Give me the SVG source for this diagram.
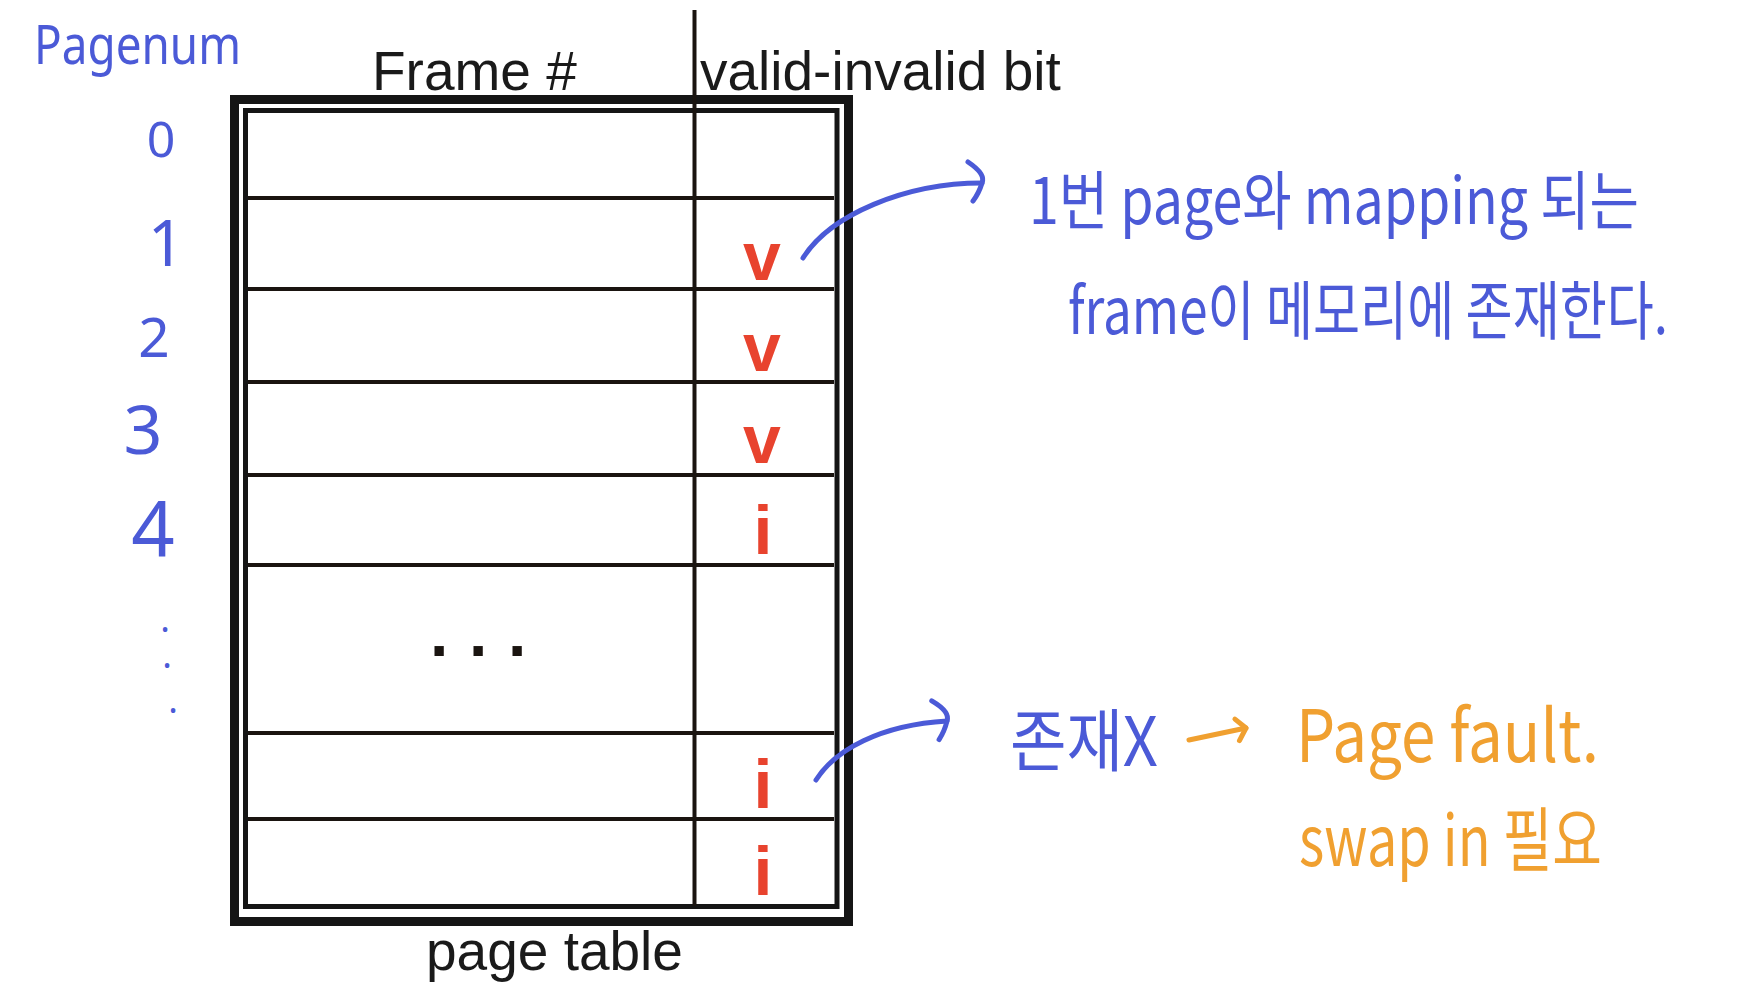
<svg xmlns="http://www.w3.org/2000/svg" width="1759" height="1000" viewBox="0 0 1759 1000">
<style>
.hdr{font-family:"Liberation Sans",Arial,sans-serif;font-size:55px;fill:#1a1a1a}
.bit{font-family:"Liberation Sans",Arial,sans-serif;font-weight:bold;font-size:68px;fill:#e8432e;text-anchor:middle}
.dots{font-family:"Liberation Sans",Arial,sans-serif;font-weight:bold;font-size:66px;fill:#1a1410}
.hand{font-family:"Noto Sans CJK KR","Noto Sans",sans-serif;fill:#4b5ad7}
.handO{font-family:"Noto Sans CJK KR","Noto Sans",sans-serif;fill:#f0a030}
.num{font-family:"Noto Sans","Noto Sans CJK KR",sans-serif;fill:#4b5ad7;text-anchor:middle}
.grid{stroke:#1a1410;stroke-width:4;fill:none}
.conn{fill:none;stroke:#4b5ad7;stroke-width:5;stroke-linecap:round;stroke-linejoin:round}
.connO{fill:none;stroke:#f0a030;stroke-width:5;stroke-linecap:round;stroke-linejoin:round}
</style>
<defs>
<marker id="hook" markerUnits="userSpaceOnUse" markerWidth="40" markerHeight="50" refX="0" refY="0" viewBox="-25 -25 40 50" orient="auto" overflow="visible">
<path d="M-14,-21 Q4,-9 0,0 Q-3,10 -9,18" fill="none" stroke="#4b5ad7" stroke-width="5" stroke-linecap="round"/>
</marker>
<marker id="chev" markerUnits="userSpaceOnUse" markerWidth="30" markerHeight="30" refX="0" refY="0" viewBox="-15 -15 30 30" orient="auto" overflow="visible">
<path d="M-9,-11 L0,0 L-9,11" fill="none" stroke="#f0a030" stroke-width="5" stroke-linecap="round" stroke-linejoin="round"/>
</marker>
</defs>
<rect width="1759" height="1000" fill="#ffffff"/>

<g id="page-table">
<rect x="234.5" y="99.5" width="614" height="822" fill="#ffffff" stroke="#151515" stroke-width="9"/>
<rect x="245.5" y="110.5" width="591.5" height="796" fill="none" stroke="#151515" stroke-width="5"/>
<g class="grid">
<line x1="248" y1="198" x2="834" y2="198"/>
<line x1="248" y1="289" x2="834" y2="289"/>
<line x1="248" y1="382" x2="834" y2="382"/>
<line x1="248" y1="475" x2="834" y2="475"/>
<line x1="248" y1="565" x2="834" y2="565"/>
<line x1="248" y1="733" x2="834" y2="733"/>
<line x1="248" y1="819" x2="834" y2="819"/>
<line x1="694.5" y1="10" x2="694.5" y2="906"/>
</g>
<text class="hdr" x="372" y="90">Frame #</text>
<text class="hdr" x="700" y="90">valid-invalid bit</text>
<text class="hdr" x="426" y="970">page table</text>
<text class="bit" x="762" y="280">v</text>
<text class="bit" x="762" y="371">v</text>
<text class="bit" x="762" y="463">v</text>
<text class="bit" x="763" y="554">i</text>
<text class="bit" x="763" y="808">i</text>
<text class="bit" x="763" y="895">i</text>
<text class="dots" x="430 469 508" y="656">...</text>
</g>

<g id="page-numbers">
<text x="34" y="64" font-family="Noto Sans, sans-serif" fill="#4b5ad7" font-size="54" textLength="207" lengthAdjust="spacingAndGlyphs">Pagenum</text>
<text class="num" x="161" y="157" font-size="50">0</text>
<text class="num" x="166" y="266" font-size="64">1</text>
<text class="num" x="154" y="357" font-size="55">2</text>
<text class="num" x="143" y="454" font-size="68">3</text>
<text class="num" x="153" y="556" font-size="76">4</text>
<text class="num" x="165 167 173" y="632 668 713" font-size="36">...</text>
</g>

<g id="note-valid">
<text class="hand" x="1029" y="224" font-size="64" textLength="610" lengthAdjust="spacingAndGlyphs">1번 page와 mapping 되는</text>
<text class="hand" transform="translate(1068,334) scale(1,1.1)" x="0" y="0" font-size="58" textLength="600" lengthAdjust="spacingAndGlyphs">frame이 메모리에 존재한다.</text>
</g>

<g id="note-invalid">
<text class="hand" x="1010" y="766" font-size="68" textLength="148" lengthAdjust="spacingAndGlyphs">존재X</text>
<text class="handO" x="1296" y="762" font-size="72" textLength="303" lengthAdjust="spacingAndGlyphs">Page fault.</text>
<text class="handO" x="1299" y="866" font-size="70" textLength="303" lengthAdjust="spacingAndGlyphs">swap in 필요</text>
</g>

<g id="connectors">
<path class="conn" d="M803,258 C830,215 905,183 982,183" marker-end="url(#hook)"/>
<path class="conn" d="M816,780 C835,750 880,725 947,721" marker-end="url(#hook)"/>
<path class="connO" d="M1189,740 L1246,728" marker-end="url(#chev)"/>
</g>
</svg>
